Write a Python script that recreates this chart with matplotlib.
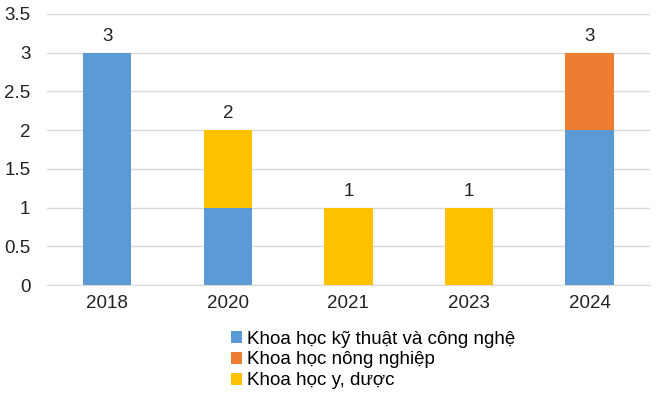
import matplotlib
matplotlib.use("Agg")
import matplotlib.pyplot as plt
import numpy as np

plt.rcParams['font.family'] = ['Liberation Sans', 'DejaVu Sans']

years = ["2018", "2020", "2021", "2023", "2024"]
ky_thuat = [3, 1, 0, 0, 2]
nong_nghiep = [0, 0, 0, 0, 1]
y_duoc = [0, 1, 1, 1, 0]
totals = [3, 2, 1, 1, 3]
series_names = ["Khoa học kỹ thuật và công nghệ", "Khoa học nông nghiệp", "Khoa học y, dược"]
colors = ["#5B9BD5", "#ED7D31", "#FFC000"]

fig = plt.figure(figsize=(6.63, 3.97), dpi=100)
ax = fig.add_axes([0.071, 0.282, 0.909, 0.683])

x = np.arange(len(years))
w = 0.4
bottom = np.zeros(len(years))
handles = []
for vals, name, c in zip([ky_thuat, nong_nghiep, y_duoc], series_names, colors):
    b = ax.bar(x, vals, w, bottom=bottom, color=c, label=name, zorder=3)
    handles.append(b)
    bottom += np.array(vals)

for xi, t in zip(x, totals):
    ax.text(xi, t + 0.1, str(t), ha='center', va='bottom', fontsize=13.5, color='#222222')

ax.set_xlim(-0.5, len(years) - 0.5)
ax.set_ylim(0, 3.5)
ax.set_yticks(np.arange(0, 3.51, 0.5))
ax.set_yticklabels(["0", "0.5", "1", "1.5", "2", "2.5", "3", "3.5"])
ax.set_xticks(x)
ax.set_xticklabels(years)
ax.tick_params(axis='both', length=0, labelsize=13.5, colors='#222222')
ax.tick_params(axis='x', pad=7)
ax.tick_params(axis='y', pad=12)
ax.yaxis.grid(True, color='#D9D9D9', linewidth=1, zorder=0)
for s in ['top', 'right', 'left']:
    ax.spines[s].set_visible(False)
ax.spines['bottom'].set_color('#D9D9D9')

fig.legend(handles=handles, labels=series_names, loc='center left',
           bbox_to_anchor=(231 / 663, 1 - 360 / 397), frameon=False,
           fontsize=13.5, handlelength=0.6, handleheight=0.6, handletextpad=0.25,
           labelspacing=0.2, borderaxespad=0, borderpad=0)

fig.savefig("out.png", dpi=100)
